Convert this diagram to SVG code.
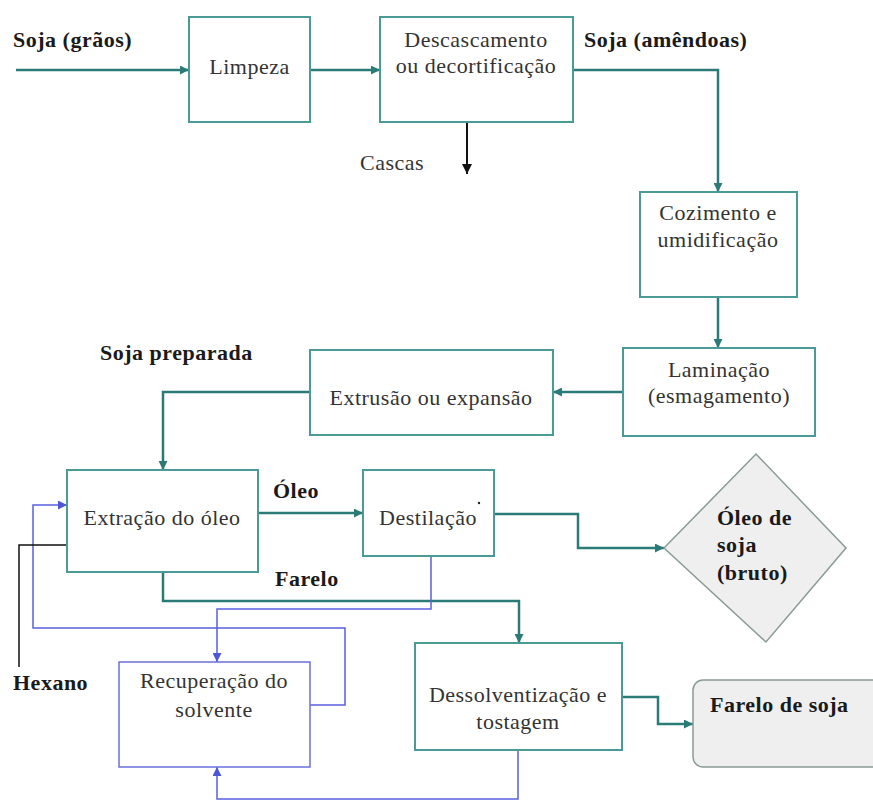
<svg xmlns="http://www.w3.org/2000/svg" width="873" height="801" viewBox="0 0 873 801">
<defs>
<marker id="at" viewBox="0 0 10 10" refX="10" refY="5" markerWidth="9" markerHeight="9" markerUnits="userSpaceOnUse" orient="auto"><path d="M0,0 L10,5 L0,10 z" fill="#2a7b78"/></marker>
<marker id="ab" viewBox="0 0 10 10" refX="10" refY="5" markerWidth="9" markerHeight="9" markerUnits="userSpaceOnUse" orient="auto"><path d="M0,0 L10,5 L0,10 z" fill="#4d55d8"/></marker>
<marker id="ak" viewBox="0 0 10 10" refX="10" refY="5" markerWidth="10" markerHeight="10" markerUnits="userSpaceOnUse" orient="auto"><path d="M0,0 L10,5 L0,10 z" fill="#111"/></marker>
</defs>
<g id="connectors" fill="none">
<g stroke="#2a7b78" stroke-width="2.5" marker-end="url(#at)">
<path d="M16,70 H189"/>
<path d="M310,70 H380"/>
<path d="M573,70 H718 V192"/>
<path d="M718,297 V348"/>
<path d="M623,392 H553"/>
<path d="M310,392 H163 V470"/>
<path d="M258,513 H363"/>
<path d="M494,514 H578 V548 H664"/>
<path d="M163,572 V601 H519 V643"/>
<path d="M622,697 H658 V724 H693"/>
</g>
<g stroke="#5a60e0" stroke-width="1.5" marker-end="url(#ab)">
<path d="M431,556 V609 H217 V662"/>
<path d="M310,705 H345 V628 H33 V505 H67"/>
<path d="M518,750 V799 H217 V767"/>
</g>
<path d="M467,122 V174" stroke="#111" stroke-width="2" marker-end="url(#ak)"/>
<path d="M67,545 H19 V667" stroke="#111" stroke-width="1.5"/>
</g>
<g font-family="Liberation Serif" font-size="22" letter-spacing="0.5" fill="#333">
<g id="limpeza"><rect x="189" y="17" width="121" height="105" fill="#fff" stroke="#4a9a95" stroke-width="2"/><text font-family="Liberation Serif" x="249.5" y="74" text-anchor="middle">Limpeza</text></g>
<g id="descascamento"><rect x="380" y="17" width="193" height="105" fill="#fff" stroke="#4a9a95" stroke-width="2"/><text font-family="Liberation Serif" x="476" y="47" text-anchor="middle">Descascamento</text><text font-family="Liberation Serif" x="476" y="73" text-anchor="middle">ou decortificação</text></g>
<g id="cozimento"><rect x="640" y="192" width="157" height="105" fill="#fff" stroke="#4a9a95" stroke-width="2"/><text font-family="Liberation Serif" x="718" y="220" text-anchor="middle">Cozimento e</text><text font-family="Liberation Serif" x="718" y="247" text-anchor="middle">umidificação</text></g>
<g id="laminacao"><rect x="623" y="348" width="192" height="88" fill="#fff" stroke="#4a9a95" stroke-width="2"/><text font-family="Liberation Serif" x="719" y="377" text-anchor="middle">Laminação</text><text font-family="Liberation Serif" x="719" y="403" text-anchor="middle">(esmagamento)</text></g>
<g id="extrusao"><rect x="310" y="350" width="243" height="85" fill="#fff" stroke="#4a9a95" stroke-width="2"/><text font-family="Liberation Serif" x="431" y="405" text-anchor="middle">Extrusão ou expansão</text></g>
<g id="extracao"><rect x="67" y="470" width="191" height="102" fill="#fff" stroke="#4a9a95" stroke-width="2"/><text font-family="Liberation Serif" x="162" y="525" text-anchor="middle">Extração do óleo</text></g>
<g id="destilacao"><rect x="363" y="470" width="131" height="86" fill="#fff" stroke="#4a9a95" stroke-width="2"/><text font-family="Liberation Serif" x="428" y="525" text-anchor="middle">Destilação</text><circle cx="479" cy="503" r="1.2" fill="#222"/></g>
<g id="oleo-soja" font-weight="bold"><polygon points="664,548 756,454 846,548 766,642" fill="#efefef" stroke="#8a9a98" stroke-width="1.5"/><text font-family="Liberation Serif" x="717" y="525" fill="#1a1a1a">Óleo de</text><text font-family="Liberation Serif" x="717" y="552" fill="#1a1a1a">soja</text><text font-family="Liberation Serif" x="717" y="580" fill="#1a1a1a">(bruto)</text></g>
<g id="recuperacao"><rect x="119" y="662" width="191" height="105" fill="#fff" stroke="#6a70e0" stroke-width="1.5"/><text font-family="Liberation Serif" x="214" y="688" text-anchor="middle">Recuperação do</text><text font-family="Liberation Serif" x="214" y="717" text-anchor="middle">solvente</text></g>
<g id="dessolventizacao"><rect x="415" y="643" width="207" height="107" fill="#fff" stroke="#4a9a95" stroke-width="2"/><text font-family="Liberation Serif" x="518" y="702" text-anchor="middle">Dessolventização e</text><text font-family="Liberation Serif" x="518" y="729" text-anchor="middle">tostagem</text></g>
<g id="farelo-soja"><rect x="693" y="680" width="200" height="87" rx="10" fill="#efefef" stroke="#8a9a98" stroke-width="1.5"/><text font-family="Liberation Serif" x="710" y="712" font-weight="bold" fill="#1a1a1a">Farelo de soja</text></g>
<g id="labels" font-weight="bold" fill="#1a1a1a">
<text font-family="Liberation Serif" x="13" y="47">Soja (grãos)</text>
<text font-family="Liberation Serif" x="584" y="47">Soja (amêndoas)</text>
<text font-family="Liberation Serif" x="360" y="170" font-weight="normal" fill="#333">Cascas</text>
<text font-family="Liberation Serif" x="100" y="360">Soja preparada</text>
<text font-family="Liberation Serif" x="273" y="498">Óleo</text>
<text font-family="Liberation Serif" x="275" y="586">Farelo</text>
<text font-family="Liberation Serif" x="13" y="690">Hexano</text>
</g>
</g>
</svg>
